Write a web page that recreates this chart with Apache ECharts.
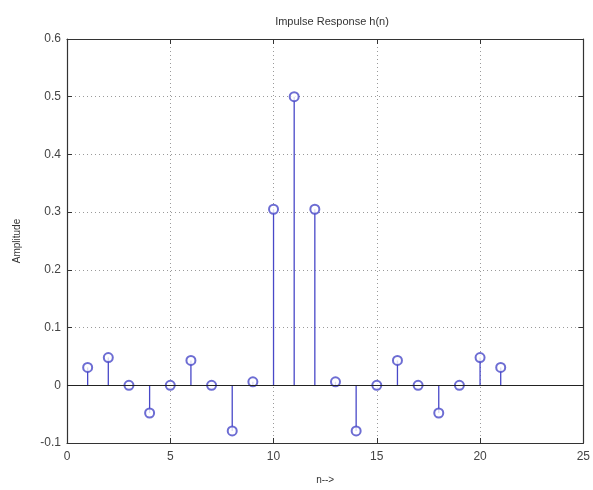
<!DOCTYPE html>
<html>
<head>
    <meta charset="UTF-8">
    <title>Impulse Response h(n)</title>
    <script src="https://cdn.jsdelivr.net/npm/echarts@6/dist/echarts.min.js"></script>
    <style>
        html, body { margin: 0; padding: 0; background: #fff; }
        #main { width: 593px; height: 490px; }
    </style>
</head>
<body>
<div id="main"></div>
<script type="text/javascript">
    // data
    var nValues = [1, 2, 3, 4, 5, 6, 7, 8, 9, 10, 11, 12, 13, 14, 15, 16, 17, 18, 19, 20, 21];
    var hValues = [0.031, 0.048, 0, -0.048, 0, 0.043, 0, -0.079, 0.006, 0.305, 0.5,
                   0.305, 0.006, -0.079, 0, 0.043, 0, -0.048, 0, 0.048, 0.031];
    var xTicks = [0, 5, 10, 15, 20, 25];
    var yTicks = [-0.1, 0, 0.1, 0.2, 0.3, 0.4, 0.5, 0.6];

    var stemColor = '#4848c8';
    var points = nValues.map(function (n, i) { return [n, hValues[i]]; });

    var font = 'Liberation Sans, Arial, sans-serif';
    var gridLine = {show: true, lineStyle: {color: '#9a9a9a', type: [1, 3], width: 1}};
    var frameLine = {show: true, onZero: false, lineStyle: {color: '#333', width: 1.2}};
    var innerTick = {show: true, inside: true, length: 5, lineStyle: {color: '#333'}};

    var myChart = echarts.init(document.getElementById('main'));
    var option = {
        animation: false,
        title: {
            text: 'Impulse Response h(n)',
            left: 327, top: 11, textAlign: 'center',
            textStyle: {fontFamily: font, fontSize: 11, fontWeight: 'normal', color: '#333'}
        },
        grid: {left: 67, right: 6, top: 39, bottom: 43},
        xAxis: [{
            type: 'value', min: xTicks[0], max: xTicks[xTicks.length - 1], interval: 5,
            name: 'n-->', nameLocation: 'middle', nameGap: 32,
            nameTextStyle: {fontFamily: font, fontSize: 10, color: '#333'},
            axisLine: frameLine,
            axisTick: innerTick,
            axisLabel: {fontFamily: font, fontSize: 12, color: '#444', margin: 8},
            splitLine: gridLine
        }, {
            type: 'value', position: 'top', min: xTicks[0], max: xTicks[xTicks.length - 1], interval: 5,
            axisLine: frameLine,
            axisTick: innerTick,
            axisLabel: {show: false}, splitLine: {show: false}
        }],
        yAxis: [{
            type: 'value', min: yTicks[0], max: yTicks[yTicks.length - 1], interval: 0.1,
            name: 'Amplitude', nameLocation: 'middle', nameGap: 45,
            nameTextStyle: {fontFamily: font, fontSize: 10, color: '#333'},
            axisLine: frameLine,
            axisTick: innerTick,
            axisLabel: {fontFamily: font, fontSize: 12, color: '#444', margin: 6},
            splitLine: gridLine
        }, {
            type: 'value', position: 'right', min: yTicks[0], max: yTicks[yTicks.length - 1], interval: 0.1,
            axisLine: frameLine,
            axisTick: innerTick,
            axisLabel: {show: false}, splitLine: {show: false}
        }],
        series: [{
            // stems
            type: 'custom',
            data: points,
            renderItem: function (params, api) {
                var top = api.coord([api.value(0), api.value(1)]);
                var base = api.coord([api.value(0), 0]);
                return {
                    type: 'line',
                    shape: {x1: base[0], y1: base[1], x2: top[0], y2: top[1]},
                    style: {stroke: stemColor, lineWidth: 1.3}
                };
            },
            markLine: {
                silent: true, symbol: 'none', label: {show: false},
                lineStyle: {color: '#222', type: 'solid', width: 1.2},
                data: [{yAxis: 0}]
            },
            z: 3
        }, {
            // markers
            type: 'scatter',
            data: points,
            symbol: 'emptyCircle',
            symbolSize: 9,
            itemStyle: {color: stemColor, borderColor: stemColor, borderWidth: 1.3},
            z: 4
        }]
    };
    myChart.setOption(option);
</script>
</body>
</html>
